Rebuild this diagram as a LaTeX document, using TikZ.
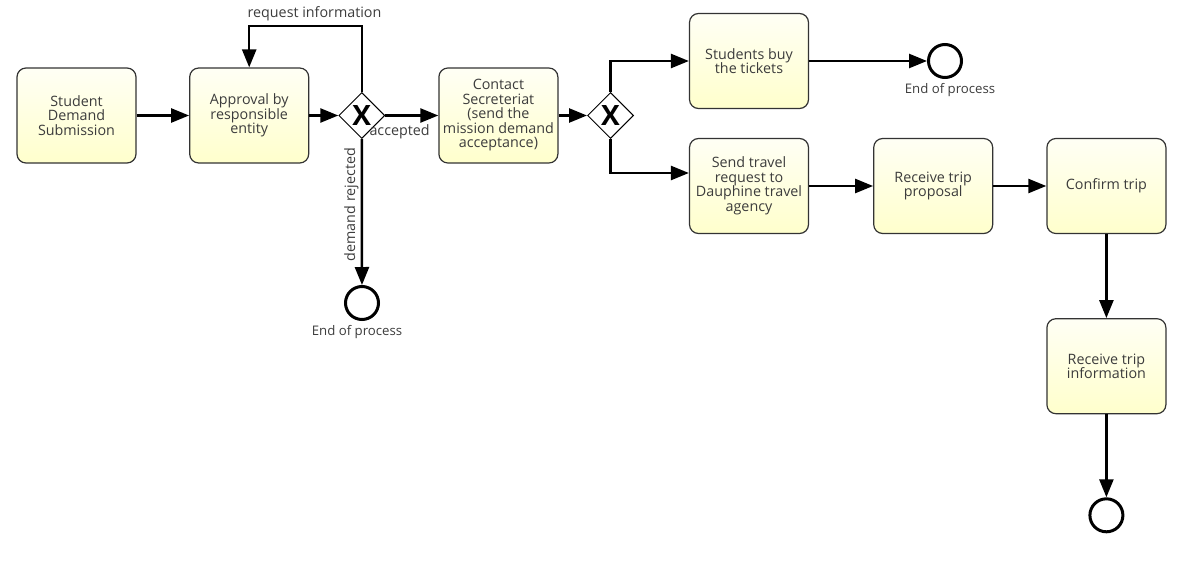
\documentclass[tikz,border=0pt]{standalone}
\usepackage{fontspec}
\setmainfont{Open Sans}
\usetikzlibrary{arrows.meta,positioning,shapes.geometric}
\definecolor{taskfill}{RGB}{255,255,204}
\definecolor{txt}{RGB}{60,60,60}
\begin{document}
\begin{tikzpicture}[x=1pt, y=-1pt,
  box/.style={draw=black!80, line width=1.2pt, rounded corners=9pt, align=center, minimum width=119pt, minimum height=95pt, font=\fontsize{14.3}{14.5}\selectfont, text=txt, top color=white!80!taskfill, bottom color=taskfill},
  gateway/.style={draw, diamond, line width=1pt, fill=white, minimum width=46pt, minimum height=46pt, inner sep=0pt, font=\fontsize{28}{28}\selectfont\bfseries},
  endevent/.style={draw, circle, line width=3pt, minimum size=33pt, fill=white},
  lbl/.style={font=\fontsize{14.3}{15}\selectfont, text=txt},
  endlbl/.style={font=\fontsize{13.2}{14}\selectfont, text=txt},
  arrow/.style={-{Triangle[length=18pt,width=14pt]}, line width=2.5pt}
]
\useasboundingbox (0,0) rectangle (1196,570);
\node[box] (sub) at (76.5,115.5) {Student\\Demand\\Submission};
\node[box, right=52.5pt of sub] (appr) {Approval by\\responsible\\entity};
\node[gateway, right=29pt of appr] (gw1) {X};
\node[box, right=53pt of gw1] (contact) {Contact\\Secreteriat\\(send the\\mission demand\\acceptance)};
\node[gateway, right=28.5pt of contact] (gw2) {X};
\node[box] (buy) at (749,61) {Students buy\\the tickets};
\node[box] (send) at (749,186) {Send travel\\request to\\Dauphine travel\\agency};
\node[box, right=64pt of send] (proposal) {Receive trip\\proposal};
\node[box, right=53pt of proposal] (confirm) {Confirm trip};
\node[box, below=84pt of confirm] (info) {Receive trip\\information};
\node[endevent] (end1) at (362,303) {};
\node[endlbl, below=1pt of end1, xshift=-5pt] (end1lbl) {End of process};
\node[endevent] (end2) at (945,61) {};
\node[endlbl, below=1pt of end2, xshift=5pt] (end2lbl) {End of process};
\node[endevent, below=83pt of info] (end3) {};
\draw[arrow] (sub) -- (appr);
\draw[arrow] (appr) -- (gw1);
\draw[arrow] (gw1.north) -- ++(0,-66) -| node[pos=0.21, above, lbl]{request information} (appr.north);
\draw[arrow] (gw1) -- node[pos=0.27, below=7pt, lbl, inner sep=1pt]{accepted} (contact);
\draw[arrow] (gw1.south) -- node[pos=0.45, anchor=south, rotate=90, lbl, inner sep=2pt]{demand rejected} (end1);
\draw[arrow] (contact) -- (gw2);
\draw[arrow] (gw2.north) |- (buy);
\draw[arrow] (gw2.south) |- ([yshift=13pt]send.west);
\draw[arrow] (buy) -- (end2);
\draw[arrow] (send) -- (proposal);
\draw[arrow] (proposal) -- (confirm);
\draw[arrow] (confirm) -- (info);
\draw[arrow] (info) -- (end3);
\end{tikzpicture}
\end{document}
